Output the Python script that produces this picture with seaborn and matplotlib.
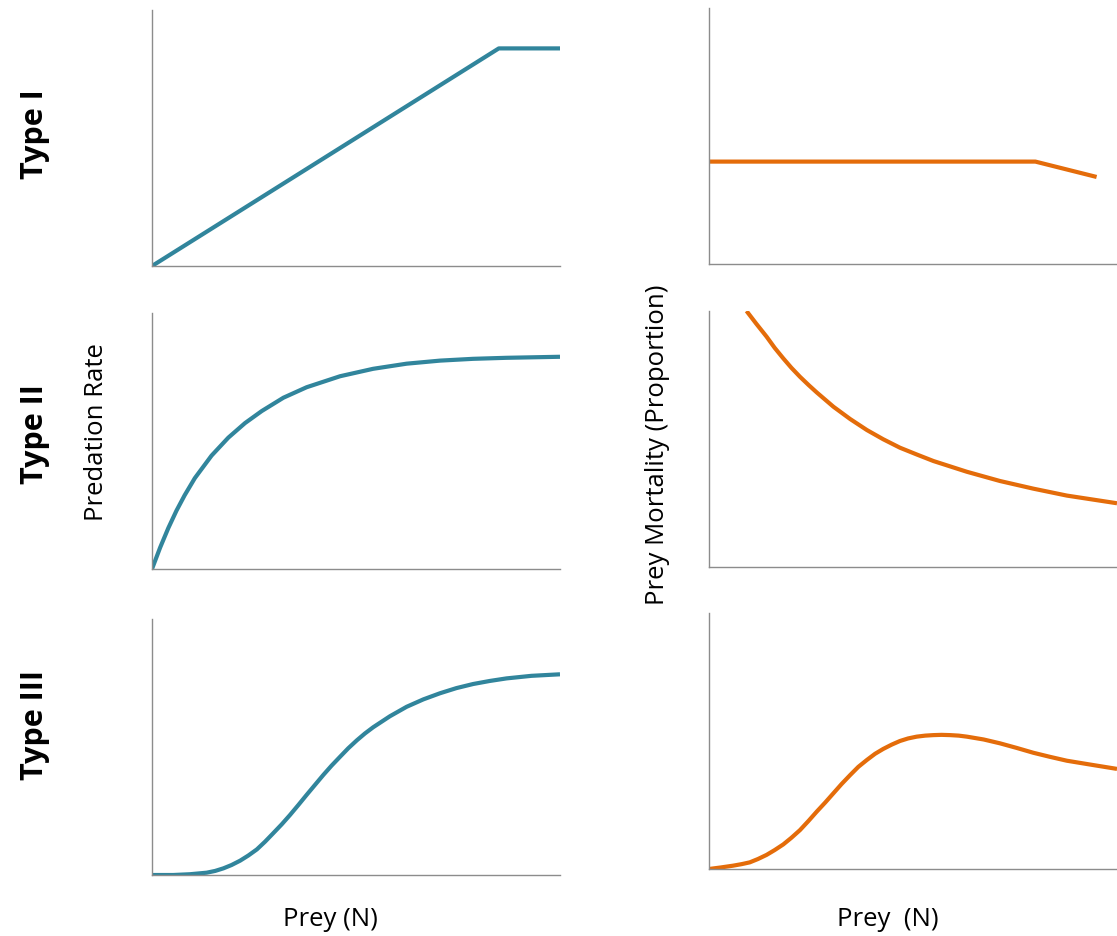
import matplotlib
matplotlib.use("Agg")
import matplotlib.pyplot as plt
import seaborn as sns
import pandas as pd

# ---------------- data (arbitrary 0-100 units) -------------
type1_rate_x = [0, 85, 100]
type1_rate_y = [0, 85, 85]
type1_mort_x = [0, 80, 95]
type1_mort_y = [40, 40, 34]

type2_rate_x = [0, 2, 4, 6, 8, 10.5, 14.6, 18.7, 22.8, 26.9, 32.2, 37.9, 46.1, 54.2,
                62.4, 70.6, 78.7, 86.9, 100]
type2_rate_y = [0, 8.4, 16.0, 22.8, 28.8, 35.5, 44.3, 51.3, 57.0, 61.7, 66.9, 71.0, 75.3,
                78.2, 80.2, 81.4, 82.1, 82.5, 82.9]
type2_mort_x = [9.2, 11.6, 14.1, 16.1, 18.2, 20.2, 22.3, 24.4, 26.4, 30.5, 34.6, 38.7,
                42.7, 46.8, 51.0, 55.0, 63.2, 71.3, 79.5, 87.7, 100]
type2_mort_y = [100, 95.0, 90.0, 85.6, 81.5, 77.8, 74.3, 71.1, 68.2, 62.6, 57.8, 53.5,
                49.9, 46.6, 43.9, 41.4, 37.2, 33.6, 30.6, 27.9, 24.9]

type3_rate_x = [0, 5.2, 9.3, 13.4, 15.5, 17.5, 19.5, 21.6, 23.6, 25.7, 27.7, 29.7, 31.8,
                33.8, 35.9, 37.9, 40.0, 42.0, 44.0, 46.1, 48.1, 50.2, 52.2, 54.2, 58.3,
                62.4, 66.5, 70.6, 74.6, 78.7, 82.8, 86.9, 93.0, 100]
type3_rate_y = [0, 0, 0.3, 0.9, 1.6, 2.6, 3.9, 5.6, 7.6, 10.0, 13.0, 16.3, 19.8,
                23.4, 27.4, 31.3, 35.3, 39.1, 42.7, 46.2, 49.5, 52.6, 55.3, 57.7, 62.0,
                65.7, 68.6, 71.0, 73.0, 74.6, 75.8, 76.8, 77.8, 78.4]
type3_mort_x = [0, 2.9, 5.9, 8.0, 10.0, 12.0, 14.1, 16.1, 18.2, 20.2, 22.3, 24.4, 26.4,
                28.5, 30.5, 32.5, 34.6, 36.6, 38.7, 40.7, 42.7, 44.8, 46.8, 48.8, 50.9,
                53.0, 55.0, 57.0, 59.1, 61.2, 63.2, 67.3, 71.3, 75.4, 79.5, 83.6, 87.7,
                93.8, 100]
type3_mort_y = [0, 0.6, 1.3, 1.9, 2.6, 3.9, 5.5, 7.4, 9.6, 12.2, 15.2, 18.8, 22.4,
                26.0, 29.6, 33.2, 36.7, 39.9, 42.6, 45.0, 46.9, 48.6, 50.0, 51.0, 51.7,
                52.1, 52.3, 52.4, 52.3, 52.1, 51.7, 50.6, 49.1, 47.3, 45.4, 43.8, 42.3,
                40.7, 39.1]

row_labels = ["Type I", "Type II", "Type III"]
left_ylabel = "Predation Rate"
right_ylabel = "Prey Mortality (Proportion)"
left_xlabel = "Prey (N)"
right_xlabel = "Prey  (N)"

TEAL = "#31859C"
ORANGE = "#E46C0A"
AXIS_GRAY = "#8C8C8C"

sns.set_style("white")
plt.rcParams["font.family"] = ["Open Sans", "DejaVu Sans"]
plt.rcParams["text.color"] = "black"

W, H = 1117, 936
fig = plt.figure(figsize=(W / 100, H / 100), dpi=100)

def px_axes(x0, y_top, x1, y_bot):
    return fig.add_axes([x0 / W, 1 - y_bot / H, (x1 - x0) / W, (y_bot - y_top) / H])

panels = [
    ((152, 10, 560, 266), type1_rate_x, type1_rate_y, TEAL),
    ((152, 313, 560, 569), type2_rate_x, type2_rate_y, TEAL),
    ((152, 619, 560, 875), type3_rate_x, type3_rate_y, TEAL),
    ((709, 8, 1117, 264), type1_mort_x, type1_mort_y, ORANGE),
    ((709, 311, 1117, 567), type2_mort_x, type2_mort_y, ORANGE),
    ((709, 613, 1117, 869), type3_mort_x, type3_mort_y, ORANGE),
]

for box, xs, ys, col in panels:
    ax = px_axes(*box)
    df = pd.DataFrame({"x": xs, "y": ys})
    sns.lineplot(data=df, x="x", y="y", ax=ax, color=col, linewidth=3.0,
                 sort=False, estimator=None, solid_capstyle="butt",
                 solid_joinstyle="round")
    ax.set_xlim(0, 100)
    ax.set_ylim(0, 100)
    ax.set_xticks([])
    ax.set_yticks([])
    ax.set_xlabel("")
    ax.set_ylabel("")
    sns.despine(ax=ax, top=True, right=True)
    for s in ("left", "bottom"):
        ax.spines[s].set_color(AXIS_GRAY)
        ax.spines[s].set_linewidth(1.0)
    ax.patch.set_alpha(0)

# row labels
for lab, yc in zip(row_labels, [134, 434, 725]):
    fig.text(35 / W, 1 - yc / H, lab, rotation=90, ha="center", va="center",
             fontsize=22, fontweight="bold", color="black")

fs = 18.5
fig.text(96 / W, 1 - 432 / H, left_ylabel, rotation=90, ha="center", va="center",
         fontsize=fs, color="black")
fig.text(658 / W, 1 - 445 / H, right_ylabel, rotation=90, ha="center", va="center",
         fontsize=fs, color="black")
fig.text(330 / W, 1 - 920 / H, left_xlabel, ha="center", va="center", fontsize=fs,
         color="black")
fig.text(888 / W, 1 - 920 / H, right_xlabel, ha="center", va="center", fontsize=fs,
         color="black")

fig.savefig("out.png", dpi=100, facecolor="white")
